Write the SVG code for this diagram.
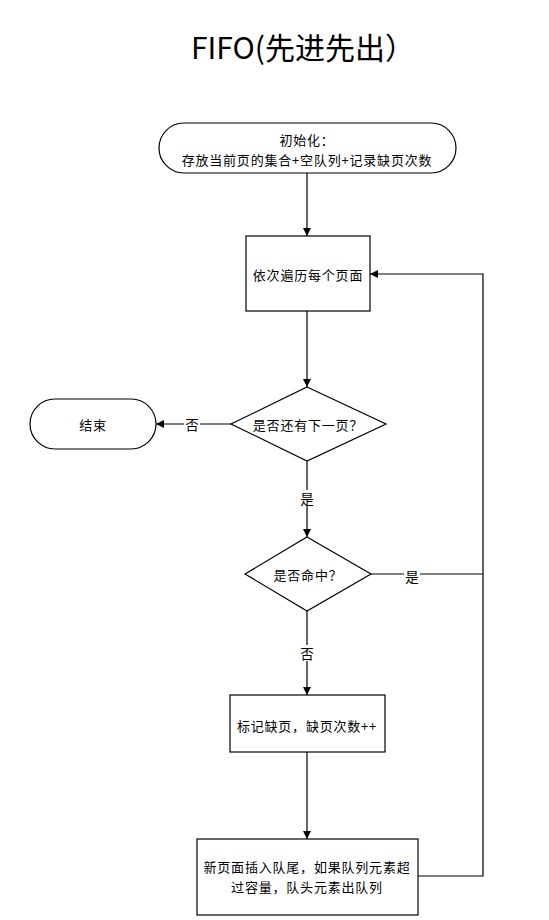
<svg xmlns="http://www.w3.org/2000/svg" width="549" height="920" viewBox="0 0 549 920">
<style>
.s{fill:#fff;stroke:#000;stroke-width:1.2}
.t{font-family:"Noto Sans CJK SC","Liberation Sans",sans-serif;font-size:13px;fill:#000;text-anchor:middle;dominant-baseline:central}
.w{letter-spacing:0.8px}
.l{fill:none;stroke:#000;stroke-width:1.2}
.lb{font-family:"Noto Sans CJK SC","Liberation Sans",sans-serif;font-size:13.5px;fill:#000;text-anchor:middle;dominant-baseline:central}
</style>
<defs>
<marker id="a" markerWidth="10" markerHeight="10" refX="9" refY="5" orient="auto" markerUnits="userSpaceOnUse">
<path d="M1,1 L9,5 L1,9 Z" fill="#000"/>
</marker>
</defs>
<rect width="549" height="920" fill="#fff"/>
<text x="303" y="46" style="font-family:'Noto Sans CJK SC','Liberation Sans',sans-serif;font-size:30px;text-anchor:middle;dominant-baseline:central">FIFO(先进先出）</text>
<g id="connectors">
<line class="l" x1="307" y1="173" x2="307" y2="236" marker-end="url(#a)"/>
<line class="l" x1="307" y1="311" x2="307" y2="387" marker-end="url(#a)"/>
<line class="l" x1="231" y1="424" x2="156" y2="424" marker-end="url(#a)"/>
<rect x="184" y="416" width="16" height="16" fill="#fff"/>
<text class="lb" x="192" y="424">否</text>
<line class="l" x1="307" y1="461" x2="307" y2="537" marker-end="url(#a)"/>
<rect x="299" y="490" width="16" height="16" fill="#fff"/>
<text class="lb" x="307" y="498">是</text>
<polyline class="l" points="371,574 483,574"/>
<rect x="404" y="566" width="16" height="16" fill="#fff"/>
<text class="lb" x="412" y="576">是</text>
<line class="l" x1="307" y1="611" x2="307" y2="695" marker-end="url(#a)"/>
<rect x="299" y="645" width="16" height="16" fill="#fff"/>
<text class="lb" x="307" y="653">否</text>
<line class="l" x1="307" y1="752" x2="307" y2="839" marker-end="url(#a)"/>
<polyline class="l" points="418,876 483,876 483,274 370,274" marker-end="url(#a)"/>
</g>
<g id="start">
<rect class="s" x="159" y="123" width="297" height="50" rx="25" ry="25"/>
<text class="t w" x="307" y="139">初始化：</text>
<text class="t w" x="307" y="159">存放当前页的集合+空队列+记录缺页次数</text>
</g>
<g id="loop">
<rect class="s" x="246" y="236" width="124" height="75"/>
<text class="t w" x="308" y="274">依次遍历每个页面</text>
</g>
<g id="hasNext">
<polygon class="s" points="307,387 386,424 307,461 231,424"/>
<text class="t w" x="308" y="424">是否还有下一页？</text>
</g>
<g id="end">
<rect class="s" x="30" y="399" width="126" height="50" rx="25" ry="25"/>
<text class="t w" x="93" y="424">结束</text>
</g>
<g id="hit">
<polygon class="s" points="307,537 371,574 307,611 245,574"/>
<text class="t w" x="308" y="574">是否命中？</text>
</g>
<g id="miss">
<rect class="s" x="230" y="695" width="155" height="57"/>
<text class="t w" x="307" y="725">标记缺页，缺页次数++</text>
</g>
<g id="insert">
<rect class="s" x="197" y="839" width="221" height="76"/>
<text class="t w" x="307" y="866">新页面插入队尾，如果队列元素超</text>
<text class="t w" x="307" y="886">过容量，队头元素出队列</text>
</g>
</svg>
